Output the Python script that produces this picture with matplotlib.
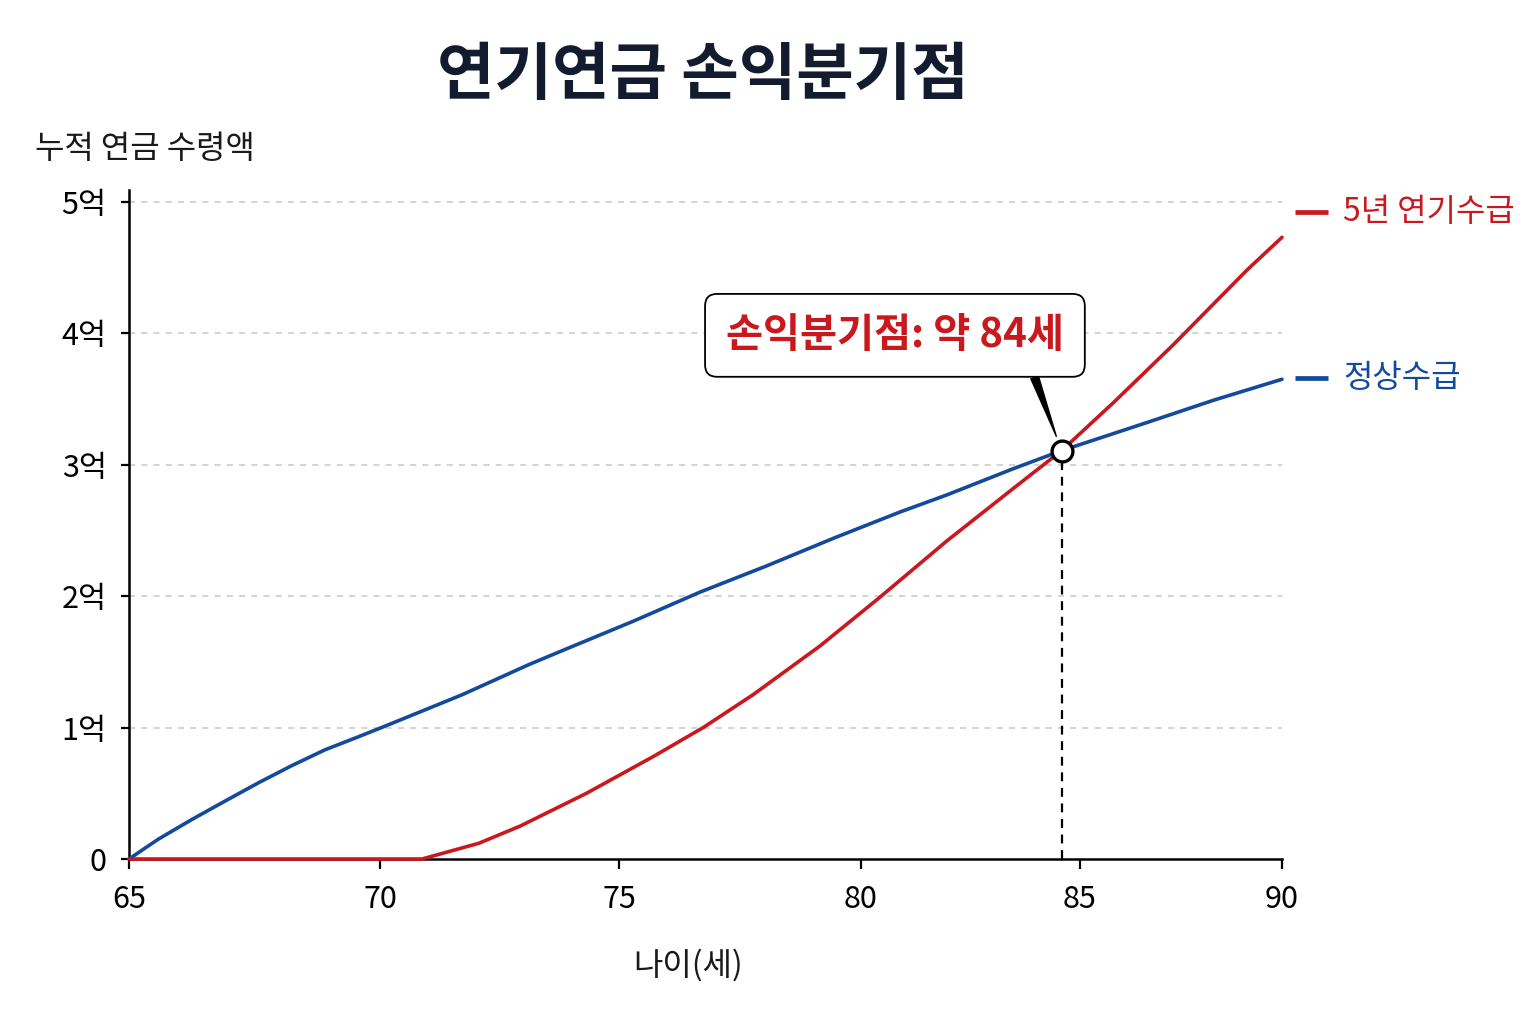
import matplotlib
matplotlib.use("Agg")
import numpy as np
import matplotlib.pyplot as plt

plt.rcParams['font.family'] = ['Noto Sans CJK KR', 'DejaVu Sans']

# ---- data (억 원) ----
title = "연기연금 손익분기점"
y_label = "누적 연금 수령액"
x_label = "나이(세)"

ages_normal = [65.0, 65.58, 66.25, 66.91, 67.58, 68.24, 68.90, 69.57, 70.10, 71.72,
               73.12, 73.91, 75.30, 76.67, 78.05, 79.43, 80.89, 81.96, 83.48, 84.58,
               86.65, 88.30, 90.0]
amount_normal = [0.0, 0.15, 0.30, 0.44, 0.58, 0.71, 0.83, 0.93, 1.01, 1.25,
                 1.48, 1.60, 1.81, 2.03, 2.23, 2.44, 2.64, 2.77, 2.97, 3.107,
                 3.32, 3.49, 3.65]

ages_deferred = [65.0, 70.88, 72.07, 72.93, 74.32, 75.71, 76.74, 77.77, 79.15,
                 80.39, 81.96, 83.48, 84.58, 85.82, 87.30, 89.13, 90.0]
amount_deferred = [0.0, 0.0, 0.12, 0.25, 0.50, 0.78, 1.00, 1.25, 1.62,
                   1.98, 2.42, 2.82, 3.107, 3.47, 3.91, 4.48, 4.73]

series_names = ["5년 연기수급", "정상수급"]
label_values = [4.92, 3.66]          # vertical position of the end labels
breakeven_age = 84.58
breakeven_value = 3.107
breakeven_text = "손익분기점: 약 84세"

x_ticks = [65, 70, 75, 80, 85, 90]
x_tick_spacing = [0, 251, 490, 732, 951, 1153]   # uneven spacing of the age axis
y_ticks = [0, 1, 2, 3, 4, 5]
y_tick_labels = ["0", "1억", "2억", "3억", "4억", "5억"]

RED = "#c9191f"
BLUE = "#134a9e"


def _pw(v, xs, ys):
    v = np.asarray(v, dtype=float)
    xs = np.asarray(xs, dtype=float)
    ys = np.asarray(ys, dtype=float)
    out = np.interp(v, xs, ys)
    hi = (ys[-1] - ys[-2]) / (xs[-1] - xs[-2])
    lo = (ys[1] - ys[0]) / (xs[1] - xs[0])
    out = np.where(v > xs[-1], ys[-1] + (v - xs[-1]) * hi, out)
    out = np.where(v < xs[0], ys[0] + (v - xs[0]) * lo, out)
    return out


def age_fwd(a):
    return _pw(a, x_ticks, x_tick_spacing)


def age_inv(p):
    return _pw(p, x_tick_spacing, x_ticks)


fig = plt.figure(figsize=(15.36, 10.24), dpi=100)
ax = fig.add_axes([129 / 1536, 1 - 859 / 1024, (1282 - 129) / 1536, (859 - 190) / 1024])
ax.set_xscale("function", functions=(age_fwd, age_inv))

# grid
for v in y_ticks[1:]:
    ax.axhline(v, color="#c8c8c8", lw=1.1, ls=(0, (4, 4)), zorder=0)

# lines
ax.plot(ages_normal, amount_normal, color=BLUE, lw=2.6, zorder=3, clip_on=False,
        solid_capstyle="round", solid_joinstyle="round")
ax.plot(ages_deferred, amount_deferred, color=RED, lw=2.6, zorder=4, clip_on=False,
        solid_capstyle="round", solid_joinstyle="round")

# breakeven marker
ax.vlines(breakeven_age, 0, breakeven_value, colors="black", lw=1.6,
          linestyles=(0, (4, 3)), zorder=2)
ax.plot([breakeven_age], [breakeven_value], marker="o", ms=15, mfc="white",
        mec="black", mew=2.4, zorder=6, clip_on=False)

ax.annotate(breakeven_text, xy=(breakeven_age, breakeven_value),
            xytext=(-120, 83), textcoords="offset points",
            ha="center", va="center", fontsize=29, fontweight="bold", color=RED,
            bbox=dict(boxstyle="round,pad=0.52,rounding_size=0.3", fc="white",
                      ec="black", lw=1.3),
            arrowprops=dict(arrowstyle="wedge,tail_width=0.2", color="black",
                            relpos=(0.89, 0.0), shrinkA=0, shrinkB=11),
            zorder=7)

# direct labels at the right end of each line
px = 1.0 / 40.4   # one pixel in years beyond age 90
for name, ages, col, yv in [
        (series_names[0], ages_deferred, RED, label_values[0]),
        (series_names[1], ages_normal, BLUE, label_values[1])]:
    ax.plot([ages[-1] + 13 * px, ages[-1] + 46 * px], [yv, yv], color=col, lw=3.4,
            clip_on=False, solid_capstyle="butt")
    ax.text(ages[-1] + 61 * px, yv, name, color=col, fontsize=23,
            fontweight="medium", ha="left", va="center", clip_on=False)

ax.set_xlim(65, 90)
ax.set_ylim(0, 5.09)

# axes styling
for s in ["top", "right"]:
    ax.spines[s].set_visible(False)
for s in ["left", "bottom"]:
    ax.spines[s].set_linewidth(1.8)
    ax.spines[s].set_color("black")

ax.set_xticks(x_ticks)
ax.set_xticklabels([str(t) for t in x_ticks])
ax.xaxis.set_minor_locator(matplotlib.ticker.NullLocator())
ax.set_yticks(y_ticks)
ax.set_yticklabels(y_tick_labels)
ax.tick_params(axis="x", length=7, width=1.6, pad=11, labelsize=22)
ax.tick_params(axis="y", length=6, width=1.6, pad=10, labelsize=22)

fig.text(703 / 1536, 1 - 76 / 1024, title, ha="center", va="center",
         fontsize=45, fontweight="heavy", color="#131c2e")
fig.text(35 / 1536, 1 - 149 / 1024, y_label, ha="left", va="center",
         fontsize=23, fontweight="medium", color="#1a1a1a")
fig.text(688 / 1536, 1 - 965 / 1024, x_label, ha="center", va="center",
         fontsize=23, fontweight="medium", color="#1a1a1a")

fig.savefig("out.png", dpi=100, facecolor="white")
